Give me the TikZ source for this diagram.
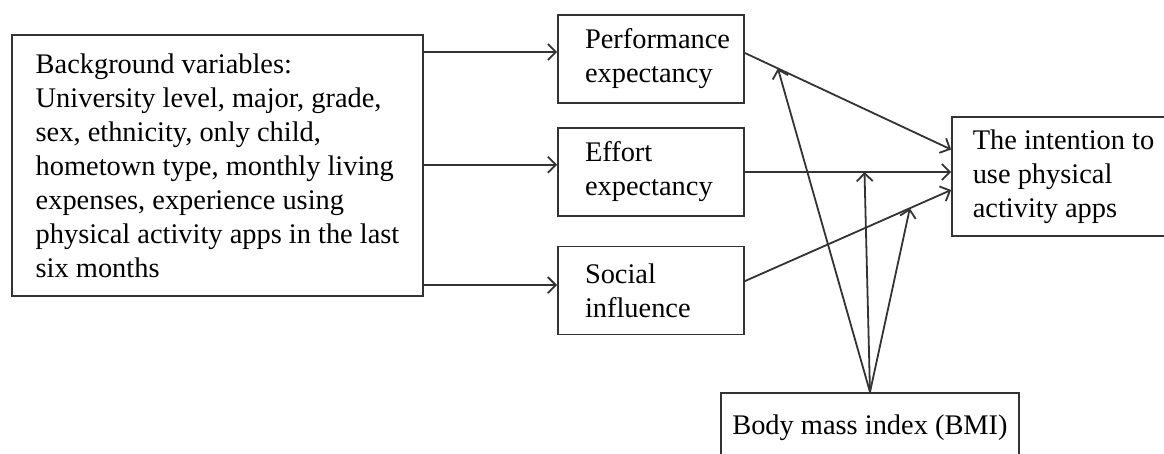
\documentclass[tikz,border=0pt]{standalone}
\usepackage{fontspec}
\setmainfont{Liberation Serif}
\usetikzlibrary{arrows.meta, positioning}

\begin{document}
\begin{tikzpicture}[
    x=0.5pt, y=-0.5pt,
    font=\fontsize{14.2}{17}\selectfont,
    block/.style={rectangle, draw=black!80, line width=0.9pt, align=left, inner xsep=0pt, inner ysep=0pt, execute at begin node={\hyphenpenalty=10000\exhyphenpenalty=10000}},
    midblock/.style={block, minimum width=93pt, minimum height=44pt, text width=66pt},
    arrow/.style={line width=0.9pt, draw=black!80, -{Straight Barb[length=4pt, width=8pt]}}
]
\useasboundingbox (0,0) rectangle (1164,454);

\node (background) [block, minimum width=205.5pt, minimum height=130.5pt] at (217.5,165.5) {Background variables:\\University level, major, grade,\\sex, ethnicity, only child,\\hometown type, monthly living\\expenses, experience using\\physical activity apps in the last\\six months};
\node (perf) [midblock] at (651,59) {Performance\\expectancy};
\node (effort) [midblock, below=11.5pt of perf] {Effort\\expectancy};
\node (social) [midblock, below=14.5pt of effort] {Social\\influence};
\node (intention) [block, minimum width=111.5pt, minimum height=59.5pt] at (1063.5,176.5) {The intention to\\use physical\\activity apps};
\node (bmi) [block, align=center, minimum width=149pt, minimum height=35pt] at (870,428) {Body mass index (BMI)};

\draw [arrow] ([yshift=3.5pt]perf.west -| background.east) -- ([yshift=3.5pt]perf.west);
\draw [arrow] ([yshift=3.5pt]effort.west -| background.east) -- ([yshift=3.5pt]effort.west);
\draw [arrow] ([yshift=2.75pt]social.west -| background.east) -- ([yshift=2.75pt]social.west);

\draw [arrow] ([yshift=3pt]perf.east) -- coordinate[pos=0.16] (onperf) ([yshift=13.5pt]intention.west);
\draw [arrow] ([yshift=2.25pt]intention.west -| effort.east) -- coordinate[pos=0.58] (oneffort) ([yshift=2.25pt]intention.west);
\draw [arrow] ([yshift=4.75pt]social.east) -- coordinate[pos=0.8] (onsocial) ([yshift=-6.75pt]intention.west);

\draw [arrow] (bmi.north) -- (onperf);
\draw [arrow] (bmi.north) -- (oneffort);
\draw [arrow] (bmi.north) -- (onsocial);
\end{tikzpicture}
\end{document}
